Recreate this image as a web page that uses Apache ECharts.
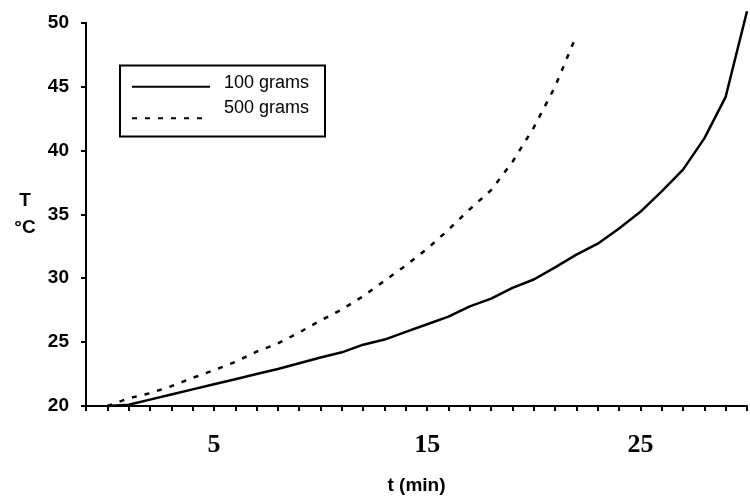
<!DOCTYPE html>
<html>
<head>
<meta charset="utf-8">
<script src="https://cdn.jsdelivr.net/npm/echarts@6/dist/echarts.min.js"></script>
<style>
  html, body { margin: 0; padding: 0; background: #fff; }
  #main { width: 750px; height: 500px; }
</style>
</head>
<body>
<div id="main"></div>
<script>
// time in minutes
var minutes = [0, 1, 2, 3, 4, 5, 6, 7, 8, 9, 10, 11, 12, 13, 14, 15, 16, 17, 18, 19, 20, 21, 22, 23, 24, 25, 26, 27, 28, 29, 30];
// temperature (°C), 100 gram sample
var temp100 = [20.0, 20.1, 20.5, 20.9, 21.3, 21.7, 22.1, 22.5, 22.9, 23.35, 23.8, 24.2, 24.8, 25.2, 25.8, 26.4, 27.0, 27.8, 28.4, 29.25, 29.9, 30.85, 31.85, 32.7, 33.9, 35.2, 36.8, 38.5, 40.95, 44.2, 50.9];
// temperature (°C), 500 gram sample (stops at 22 min)
var temp500 = [20.0, 20.6, 21.0, 21.55, 22.2, 22.8, 23.45, 24.25, 24.9, 25.75, 26.7, 27.55, 28.6, 29.8, 31.0, 32.3, 33.8, 35.4, 36.9, 39.1, 41.8, 45.0, 49.0];

var xLabels = [5, 15, 25];
var seriesNames = ['100 grams', '500 grams'];

var chart = echarts.init(document.getElementById('main'), null, { renderer: 'canvas' });

function pairs(ys) {
  var out = [];
  for (var i = 0; i < ys.length; i++) out.push([minutes[i], ys[i]]);
  return out;
}

var sans = "'Liberation Sans', Arial, sans-serif";

// legend rows: line sample and its text sit at different heights in the original
function legendRow(name, top, lift) {
  return {
    data: [name],
    left: 131,
    top: top,
    padding: 0,
    itemWidth: 78,
    itemHeight: 14,
    itemStyle: { opacity: 0 },
    formatter: '{a|{name}}',
    textStyle: {
      color: '#000',
      rich: {
        a: { fontSize: 18, fontFamily: sans, color: '#000', lineHeight: 18, padding: [0, 0, lift * 2, 9] }
      }
    }
  };
}

chart.setOption({
  animation: false,
  backgroundColor: '#fff',
  grid: {
    left: 86,
    top: 22.7,
    width: 672,
    bottom: 90.5
  },
  legend: [legendRow(seriesNames[0], 73.7, 4), legendRow(seriesNames[1], 99.3, 10)],
  graphic: [{
    type: 'rect',
    shape: { x: 120, y: 65.5, width: 205, height: 71 },
    style: { fill: 'none', stroke: '#000', lineWidth: 2 },
    z: 1
  }],
  xAxis: {
    type: 'value',
    min: -1,
    max: 30,
    interval: 1,
    name: 't (min)',
    nameLocation: 'middle',
    nameGap: 70,
    nameTextStyle: { fontSize: 19, fontWeight: 'bold', fontFamily: sans, color: '#000' },
    splitLine: { show: false },
    axisLine: { onZero: false, lineStyle: { color: '#000', width: 2 } },
    axisTick: { length: 5, lineStyle: { color: '#000', width: 2 } },
    axisLabel: {
      margin: 26,
      fontSize: 26,
      fontWeight: 'bold',
      fontFamily: "'Liberation Serif', 'Times New Roman', serif",
      color: '#000',
      formatter: function (v) { return xLabels.indexOf(v) >= 0 ? String(v) : ''; }
    }
  },
  yAxis: {
    type: 'value',
    min: 20,
    max: 50,
    interval: 5,
    name: 'T\n°C',
    nameLocation: 'middle',
    nameRotate: 0,
    nameGap: 61,
    nameTextStyle: { fontSize: 19, fontWeight: 'bold', fontFamily: sans, color: '#000', align: 'center', lineHeight: 27 },
    splitLine: { show: false },
    axisLine: { onZero: false, lineStyle: { color: '#000', width: 2 } },
    axisTick: { length: 5, lineStyle: { color: '#000', width: 2 } },
    axisLabel: { margin: 17, fontSize: 19, fontWeight: 'bold', fontFamily: sans, color: '#000' }
  },
  series: [{
    name: seriesNames[0],
    type: 'line',
    data: pairs(temp100),
    symbol: 'none',
    clip: false,
    lineStyle: { color: '#000', width: 2.5 },
    itemStyle: { color: '#000' }
  }, {
    name: seriesNames[1],
    type: 'line',
    data: pairs(temp500),
    symbol: 'none',
    clip: false,
    lineStyle: { color: '#000', width: 2.5, type: [5, 8] },
    itemStyle: { color: '#000' }
  }]
});
</script>
</body>
</html>
